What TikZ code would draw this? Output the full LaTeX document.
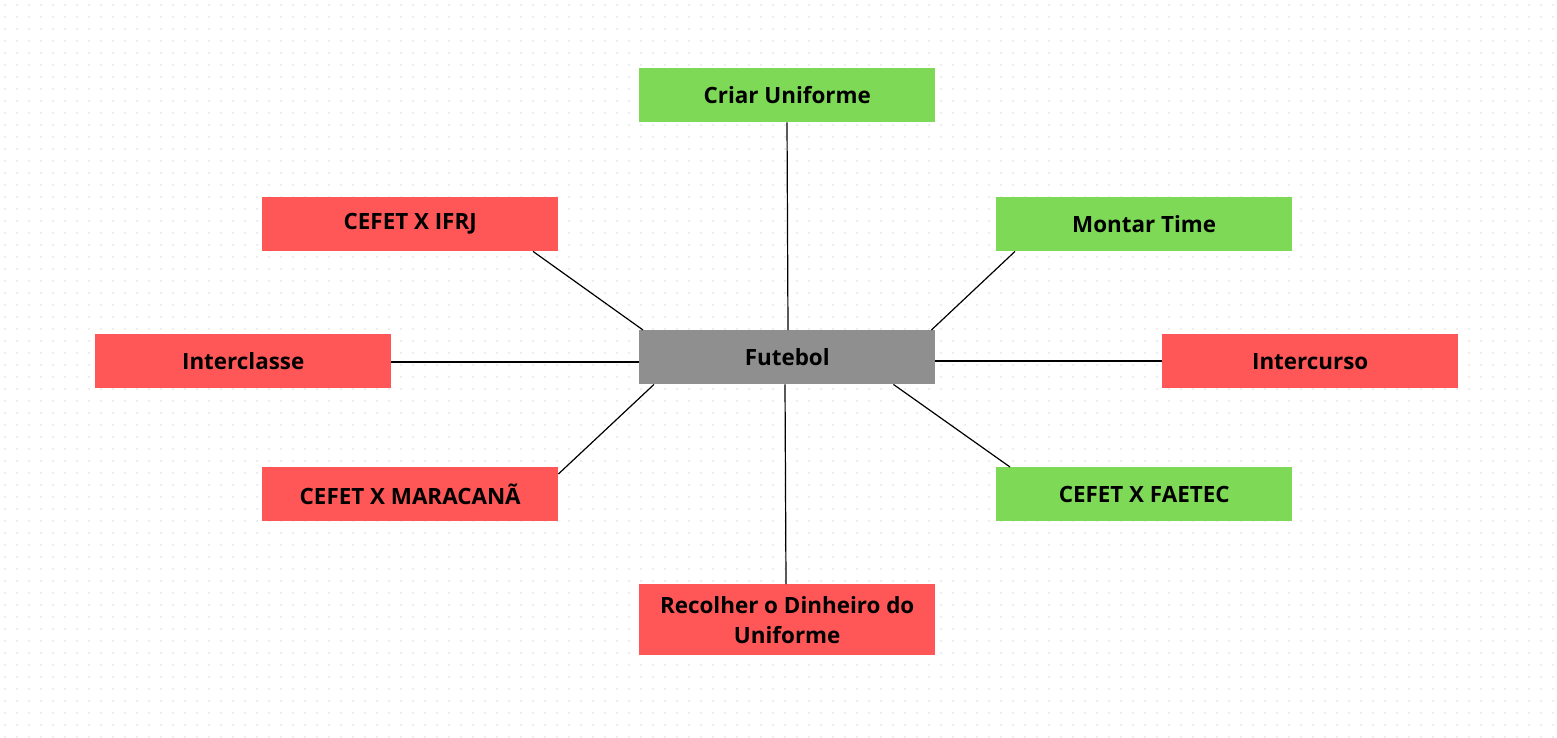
\documentclass[tikz,border=0pt]{standalone}
\usepackage{fontspec}
\setmainfont{Open Sans}
\usetikzlibrary{calc}
\definecolor{gr}{HTML}{7ED957}
\definecolor{rd}{HTML}{FF5757}
\definecolor{gy}{HTML}{8F8F8F}
\definecolor{dotc}{HTML}{EEEEEE}
\begin{document}
\begin{tikzpicture}[x=1pt,y=-1pt,
  box/.style={minimum width=296pt,minimum height=54pt,inner sep=0pt,anchor=north west,
    font=\fontsize{22.4}{30}\selectfont\bfseries,align=center,text=black},
  conn/.style={draw=black,line width=1.2pt}]
\useasboundingbox[fill=white] (0,0) rectangle (1557,737);
\foreach \i in {0,...,129}{\foreach \j in {0,...,61}{
  \fill[dotc] ({5+12*\i-1},{5+12*\j-1}) rectangle ++(2.2,2.2);}}
\node[box,fill=gr] (criar) at (639,68) {Criar Uniforme};
\node[box,fill=rd] (ifrj) at (262,197) {CEFET X IFRJ};
\node[box,fill=gr] (montar) at (996,197) {Montar Time};
\node[box,fill=rd] (inter) at (95,334) {Interclasse};
\node[box,fill=gy] (fut) at (639,330) {Futebol};
\node[box,fill=rd] (intc) at (1162,334) {Intercurso};
\node[box,fill=rd] (mara) at (262,467) {CEFET X MARACANÃ};
\node[box,fill=gr] (faetec) at (996,467) {CEFET X FAETEC};
\node[box,fill=rd,minimum height=71pt] (rec) at (639,584) {Recolher o Dinheiro do\\Uniforme};
\draw[conn] ($(criar.south west)+(148,0)$) -- ($(fut.north west)+(149,0)$);
\draw[conn] ($(ifrj.south west)+(271,0)$) -- ($(fut.north west)+(4,0)$);
\draw[conn] ($(montar.south west)+(19,0)$) -- ($(fut.north east)+(-4,0)$);
\draw[conn] ($(inter.north east)+(0,28)$) -- ($(fut.north west)+(0,32)$);
\draw[conn] ($(fut.north east)+(0,31)$) -- ($(intc.north west)+(0,27)$);
\draw[conn] ($(mara.north east)+(0,7)$) -- ($(fut.south west)+(15,0)$);
\draw[conn] ($(faetec.north west)+(14,0)$) -- ($(fut.south east)+(-42,0)$);
\draw[conn] ($(rec.north west)+(147,0)$) -- ($(fut.south west)+(146,0)$);
\end{tikzpicture}
\end{document}
